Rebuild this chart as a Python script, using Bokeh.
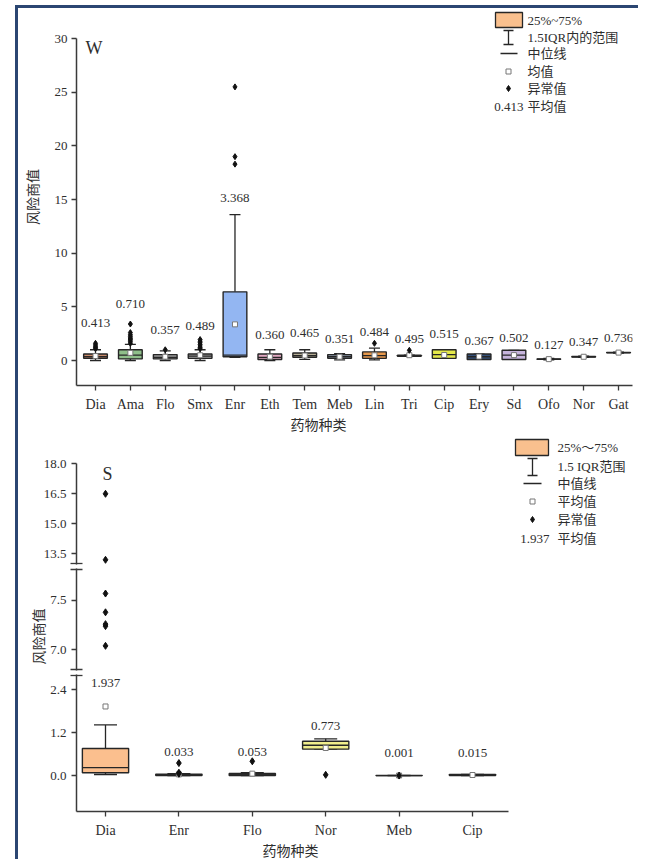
import numpy as np
from bokeh.plotting import figure
from bokeh.models import ColumnDataSource, FixedTicker, Label, Range1d, NumeralTickFormatter, Title
from bokeh.layouts import column
from bokeh.transform import dodge
from bokeh.embed import file_html
from bokeh.resources import INLINE
from bokeh.core.properties import value

# ---------------- W panel data ----------------
w_cats = ["Dia", "Ama", "Flo", "Smx", "Enr", "Eth", "Tem", "Meb", "Lin", "Tri", "Cip", "Ery", "Sd", "Ofo", "Nor", "Gat"]
w_mean = [0.413, 0.710, 0.357, 0.489, 3.368, 0.360, 0.465, 0.351, 0.484, 0.495, 0.515, 0.367, 0.502, 0.127, 0.347, 0.736]
w_q1 = [0.20, 0.15, 0.15, 0.20, 0.35, 0.10, 0.30, 0.20, 0.20, 0.40, 0.20, 0.10, 0.10, 0.12, 0.33, 0.72]
w_med = [0.35, 0.50, 0.30, 0.40, 0.50, 0.30, 0.45, 0.35, 0.45, 0.45, 0.55, 0.35, 0.50, 0.13, 0.35, 0.74]
w_q3 = [0.60, 1.00, 0.55, 0.60, 6.40, 0.60, 0.70, 0.55, 0.80, 0.50, 1.00, 0.60, 0.95, 0.14, 0.37, 0.76]
w_lo = [0.00, 0.00, 0.00, 0.00, 0.30, 0.00, 0.10, 0.05, 0.05, 0.40, 0.20, 0.10, 0.10, 0.05, 0.30, 0.70]
w_hi = [1.00, 1.50, 0.90, 1.00, 13.6, 1.00, 1.00, 0.65, 1.15, 0.50, 1.00, 0.60, 0.95, 0.20, 0.40, 0.78]
w_out = [[1.1, 1.2, 1.3, 1.45, 1.6],
         [1.6, 1.75, 1.9, 2.0, 2.1, 2.25, 2.4, 2.6, 3.4],
         [1.0],
         [1.1, 1.2, 1.35, 1.5, 1.65, 1.8, 1.95],
         [18.3, 19.0, 25.5],
         [], [], [],
         [1.6],
         [0.95],
         [], [], [], [], [], []]
w_label_y = [3.45, 5.3, 2.8, 3.26, 15.1, 2.33, 2.55, 2.05, 2.64, 2.05, 2.5, 1.8, 2.14, 1.4, 1.7, 2.1]
w_fill = ["#c98a6a", "#8fbf8a", "#9a9a9a", "#a3a3a3", "#93b6f2", "#e2a9c2", "#b5ad94", "#8a96a6",
          "#e8994c", "#808080", "#e4e84a", "#34507a", "#c6b4dc", "#b0b0b0", "#b0b0b0", "#b0b0b0"]
w_yticks = [0, 5, 10, 15, 20, 25, 30]
w_leg_text = ["25%~75%", "1.5IQR内的范围", "中位线", "均值", "异常值", "平均值"]

# ---------------- S panel data ----------------
s_cats = ["Dia", "Enr", "Flo", "Nor", "Meb", "Cip"]
s_mean = [1.937, 0.033, 0.053, 0.773, 0.001, 0.015]
s_q1 = [0.08, 0.00, 0.00, 0.74, 0.000, 0.000]
s_med = [0.22, 0.01, 0.02, 0.85, 0.000, 0.010]
s_q3 = [0.76, 0.04, 0.06, 0.96, 0.005, 0.030]
s_lo = [0.03, 0.00, 0.00, 0.74, 0.000, 0.000]
s_hi = [1.42, 0.05, 0.08, 1.03, 0.005, 0.030]
s_out = [[7.04, 7.24, 7.26, 7.38, 7.57, 13.2, 16.5],
         [0.05, 0.08, 0.35],
         [0.40],
         [0.02],
         [0.0],
         []]
s_label_y = [2.59, 0.67, 0.67, 1.40, 0.63, 0.63]
s_fill = ["#fbbf8e", "#404040", "#404040", "#f0ee8c", "#404040", "#404040"]
s_ticks_top = [13.5, 15.0, 16.5, 18.0]
s_ticks_mid = [7.0, 7.5]
s_ticks_low = [0.0, 1.2, 2.4]
s_leg_text = ["25%～75%", "1.5 IQR范围", "中值线", "平均值", "异常值", "平均值"]

FONT = "Liberation Serif, 'Noto Sans CJK SC'"
TXT = "#2e2e2e"
EDGE = "#262626"
AXC = "#3a3a3a"
LEG_FILL = "#f9c08e"

FRAME_L, FRAME_R = 76, 632
CANVAS_L, CANVAS_W = 18, 620
MBL = FRAME_L - CANVAS_L
MBR = CANVAS_L + CANVAS_W - FRAME_R


def make_fig(height, xr, yr, mbt, mbb, xaxis=True):
    p = figure(width=CANVAS_W, height=height, x_range=Range1d(*xr), y_range=Range1d(*yr),
               output_backend="svg", toolbar_location=None,
               x_axis_location="below" if xaxis else None,
               min_border_left=MBL, min_border_right=MBR, min_border_top=mbt, min_border_bottom=mbb)
    p.outline_line_color = None
    p.grid.visible = False
    for ax in p.axis:
        ax.axis_line_color = AXC
        ax.axis_line_width = 1.5
        ax.major_tick_line_color = AXC
        ax.major_tick_line_width = 1.3
        ax.major_tick_out = 5
        ax.major_tick_in = 0
        ax.minor_tick_line_color = None
        ax.major_label_text_font = FONT
        ax.major_label_text_color = TXT
        ax.major_label_text_font_size = "13px"
        ax.major_label_standoff = 4
    return p


def xlabel_title(text, offset):
    return Title(text=text, align="left", offset=offset, standoff=2, text_font=FONT,
                 text_font_size="14px", text_font_style="normal", text_color=TXT)


def draw_boxes(p, xs, q1, med, q3, lo, hi, mean, fill, bw, capsize):
    src = ColumnDataSource(dict(x=xs, q1=q1, med=med, q3=q3, lo=lo, hi=hi, mean=mean, fill=fill))
    p.segment(x0="x", y0="q3", x1="x", y1="hi", source=src, line_color=EDGE, line_width=1.3)
    p.segment(x0="x", y0="lo", x1="x", y1="q1", source=src, line_color=EDGE, line_width=1.3)
    p.scatter(x="x", y="hi", marker="dash", size=capsize, source=src, line_color=EDGE, line_width=1.3)
    p.scatter(x="x", y="lo", marker="dash", size=capsize, source=src, line_color=EDGE, line_width=1.3)
    p.vbar(x="x", width=bw, bottom="q1", top="q3", source=src, fill_color="fill",
           line_color=EDGE, line_width=1.4)
    p.segment(x0=dodge("x", -bw / 2), y0="med", x1=dodge("x", bw / 2), y1="med", source=src,
              line_color=EDGE, line_width=1.3)
    p.scatter(x="x", y="mean", marker="square", size=5, source=src, fill_color="white",
              line_color="#777777", line_width=1)


def draw_outliers(p, xs, outs, lo_lim, hi_lim, size):
    ox, oy = [], []
    for x, vals in zip(xs, outs):
        for v in vals:
            if lo_lim <= v <= hi_lim:
                ox.append(x)
                oy.append(v)
    p.scatter(ox, oy, marker="diamond", size=size, fill_color="#111111", line_color="#111111")


# ================= W panel =================
WX0, WDX = 95.0, 34.87      # pixel mapping helpers (annotation placement only)
WY0, WDY = 360.0, 10.73


def wx(X):
    return (X - WX0) / WDX


def wy(Y):
    return (WY0 - Y) / WDY


W_TOP, W_AX = 8, 385
pW = make_fig(437 - W_TOP, (wx(FRAME_L), wx(FRAME_R)), (wy(W_AX), wy(W_TOP)), 0, 437 - W_AX)
pW.xaxis.ticker = FixedTicker(ticks=list(range(len(w_cats))))
pW.xaxis.major_label_overrides = {i: c for i, c in enumerate(w_cats)}
pW.xaxis.major_label_text_font_size = "14px"
pW.xaxis.major_label_standoff = 6
pW.yaxis.ticker = FixedTicker(ticks=w_yticks)
pW.yaxis.bounds = (wy(W_AX), 30)
pW.yaxis.axis_label = "风险商值"
pW.yaxis.axis_label_text_font = FONT
pW.yaxis.axis_label_text_font_size = "14px"
pW.yaxis.axis_label_text_font_style = "normal"
pW.yaxis.axis_label_text_color = TXT
pW.yaxis.axis_label_standoff = 11
pW.add_layout(xlabel_title("药物种类", 318 - 28 - FRAME_L), "below")

wxs = list(range(len(w_cats)))
draw_boxes(pW, wxs, w_q1, w_med, w_q3, w_lo, w_hi, w_mean, w_fill, 0.68, 11)
draw_outliers(pW, wxs, w_out, -100, 100, 6)
pW.text(x=wxs, y=w_label_y, text=[f"{m:.3f}" for m in w_mean], text_align="center",
        text_baseline="middle", text_font=value(FONT), text_font_size="13px", text_color=TXT)

# legend (W)
pW.quad(left=[wx(495)], right=[wx(522)], top=[wy(12)], bottom=[wy(27)], fill_color=LEG_FILL,
        line_color=EDGE, line_width=1.3)
pW.segment(x0=[wx(508)], y0=[wy(30)], x1=[wx(508)], y1=[wy(44)], line_color=EDGE, line_width=1.3)
pW.segment(x0=[wx(503), wx(503)], y0=[wy(30), wy(44)], x1=[wx(513), wx(513)], y1=[wy(30), wy(44)],
           line_color=EDGE, line_width=1.3)
pW.segment(x0=[wx(500)], y0=[wy(53)], x1=[wx(517)], y1=[wy(53)], line_color=EDGE, line_width=1.5)
pW.scatter([wx(508)], [wy(71)], marker="square", size=5, fill_color="white", line_color="#777777")
pW.scatter([wx(508)], [wy(88)], marker="diamond", size=6, fill_color="#111111", line_color="#111111")
rows_w = [20, 37, 53, 71, 88, 106]
pW.text(x=[wx(527)] * 6, y=[wy(r) for r in rows_w], text=w_leg_text, text_align="left",
        text_baseline="middle", text_font=value(FONT), text_font_size="13px", text_color=TXT)
pW.text(x=[wx(523)], y=[wy(106)], text=[f"{w_mean[0]:.3f}"], text_align="right",
        text_baseline="middle", text_font=value(FONT), text_font_size="13px", text_color=TXT)

pW.add_layout(Label(x=wx(85), y=wy(47), text="W", text_font=FONT, text_font_size="18px",
                    text_color=TXT, text_baseline="middle"))

# ================= S panel (broken y axis: three stacked segments) =================
SX0, SDX = 105.0, 73.4


def sx(X):
    return (X - SX0) / SDX


def s1y(Y):
    return 18.0 - (Y - 463.3) / 20.0


def s2y(Y):
    return 7.0 + (649.3 - Y) / 98.7


def s3y(Y):
    return (778.0 - Y) / 36.7


s_xr = (sx(FRAME_L), sx(FRAME_R))


def style_break_axis(p, ticks, minor):
    p.yaxis.ticker = FixedTicker(ticks=ticks, minor_ticks=minor)
    p.yaxis.formatter = NumeralTickFormatter(format="0.0")
    p.yaxis.minor_tick_line_color = AXC
    p.yaxis.minor_tick_line_width = 1.3
    p.yaxis.minor_tick_in = 6
    p.yaxis.minor_tick_out = 6


# top segment: canvas 437-566, frame 437-564
pS1 = make_fig(129, s_xr, (s1y(564), s1y(437)), 0, 2, xaxis=False)
style_break_axis(pS1, s_ticks_top, [s1y(563)])
pS1.yaxis.bounds = (s1y(564), 18.0)

# middle segment: canvas 566-672, frame 568-670
pS2 = make_fig(106, s_xr, (s2y(670), s2y(568)), 2, 2, xaxis=False)
style_break_axis(pS2, s_ticks_mid, [s2y(569), s2y(669)])
pS2.add_layout(Title(text="风险商值", align="left", offset=6, standoff=2, text_font=FONT,
                     text_font_size="14px", text_font_style="normal", text_color=TXT), "left")

# bottom segment: canvas 672-859, frame 674-815
pS3 = make_fig(187, s_xr, (s3y(815), s3y(674)), 2, 44)
style_break_axis(pS3, s_ticks_low, [s3y(675)])
pS3.xaxis.ticker = FixedTicker(ticks=list(range(len(s_cats))))
pS3.xaxis.major_label_overrides = {i: c for i, c in enumerate(s_cats)}
pS3.xaxis.major_label_text_font_size = "14px"
pS3.xaxis.major_label_standoff = 6
pS3.xaxis.bounds = (sx(FRAME_L), sx(508))
pS3.add_layout(xlabel_title("药物种类", 290 - 28 - FRAME_L), "below")

sxs = list(range(len(s_cats)))
draw_boxes(pS3, sxs, s_q1, s_med, s_q3, s_lo, s_hi, s_mean, s_fill, 0.63, 23)
draw_outliers(pS3, sxs, s_out, -1, 3, 7)
draw_outliers(pS2, sxs, s_out, 6.5, 8.0, 7)
draw_outliers(pS1, sxs, s_out, 12.0, 19.0, 7)
pS3.text(x=sxs, y=s_label_y, text=[f"{m:.3f}" for m in s_mean], text_align="center",
         text_baseline="middle", text_font=value(FONT), text_font_size="13px", text_color=TXT)

# legend (S)
pS1.quad(left=[sx(515)], right=[sx(548)], top=[s1y(439)], bottom=[s1y(455)], fill_color=LEG_FILL,
         line_color=EDGE, line_width=1.3)
pS1.segment(x0=[sx(532)], y0=[s1y(458)], x1=[sx(532)], y1=[s1y(475)], line_color=EDGE, line_width=1.3)
pS1.segment(x0=[sx(527), sx(527)], y0=[s1y(458), s1y(475)], x1=[sx(537), sx(537)],
            y1=[s1y(458), s1y(475)], line_color=EDGE, line_width=1.3)
pS1.segment(x0=[sx(523)], y0=[s1y(483)], x1=[sx(541)], y1=[s1y(483)], line_color=EDGE, line_width=1.5)
pS1.scatter([sx(532)], [s1y(501)], marker="square", size=5, fill_color="white", line_color="#777777")
pS1.scatter([sx(532)], [s1y(519)], marker="diamond", size=6, fill_color="#111111", line_color="#111111")
rows_s = [447, 466, 483, 501, 519, 538]
pS1.text(x=[sx(557)] * 6, y=[s1y(r) for r in rows_s], text=s_leg_text, text_align="left",
         text_baseline="middle", text_font=value(FONT), text_font_size="13px", text_color=TXT)
pS1.text(x=[sx(549)], y=[s1y(538)], text=[f"{s_mean[0]:.3f}"], text_align="right",
         text_baseline="middle", text_font=value(FONT), text_font_size="13px", text_color=TXT)

pS1.add_layout(Label(x=sx(102), y=s1y(473), text="S", text_font=FONT, text_font_size="18px",
                     text_color=TXT, text_baseline="middle"))

layout = column(pW, pS1, pS2, pS3, spacing=0, margin=(5, 0, 0, 15),
                styles={"border-top": "3px solid #2b4672", "border-left": "3px solid #2b4672"})

open("out.html", "w").write(file_html(layout, INLINE))
